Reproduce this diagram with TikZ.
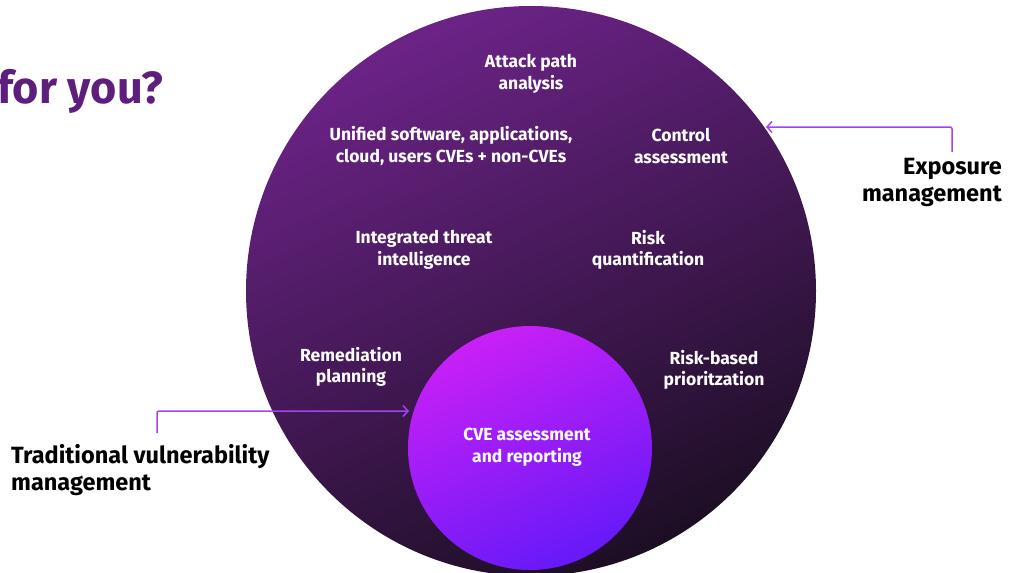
\documentclass[tikz,border=0pt]{standalone}
\usepackage{fontspec}
\setmainfont{Fira Sans}
\usetikzlibrary{arrows.meta,calc}
\definecolor{titlec}{HTML}{5E1E7E}
\definecolor{bigA}{HTML}{6C2388}
\definecolor{bigB}{HTML}{1C0E24}
\definecolor{smA}{HTML}{C920F6}
\definecolor{smB}{HTML}{6619F8}
\definecolor{arrc}{HTML}{A244F2}
\tikzset{
  inlabel/.style={text=white, font=\fontsize{17.5}{21.5}\selectfont\bfseries, align=center, inner sep=0pt},
  outlabel/.style={text=black, font=\fontsize{23.5}{27}\selectfont\bfseries, inner sep=0pt},
  arr/.style={draw=arrc, line width=1.5pt, rounded corners=2pt, -{Straight Barb[length=5pt,width=11pt]}}
}
\begin{document}
\begin{tikzpicture}[x=1pt,y=-1pt]
\useasboundingbox (0,0) rectangle (1021,573);
\clip (0,0) rectangle (1021,573);
\fill[white] (0,0) rectangle (1021,573);
\node[text=titlec, font=\fontsize{45}{45}\selectfont\bfseries, anchor=base west, inner sep=0pt] (title) at (-3,103) {for you?};
\node[circle, minimum size=570pt, inner sep=0pt, shading=axis, top color=bigA, bottom color=bigB, shading angle=25] (big) at (531,291) {};
\node[circle, minimum size=244pt, inner sep=0pt, shading=axis, top color=smA, bottom color=smB, shading angle=25] (small) at (530,448) {};
\node[inlabel] (attack) at (531,74) {Attack path\\analysis};
\node[inlabel] (unified) at (451,146) {Unified software, applications,\\cloud, users CVEs + non-CVEs};
\node[inlabel] (control) at (681,146) {Control\\assessment};
\node[inlabel] (intel) at (424,250) {Integrated threat\\intelligence};
\node[inlabel] (quant) at (648,250) {Risk\\quantification};
\node[inlabel] (remed) at (351,367) {Remediation\\planning};
\node[inlabel] (prio) at (714,370) {Risk-based\\prioritzation};
\node[inlabel] (cve) at (527,447) {CVE assessment\\and reporting};
\node[outlabel, align=right, anchor=north east] (expo) at (1002,158) {Exposure\\management};
\node[outlabel, align=left, anchor=north west] (trad) at (11,444) {Traditional vulnerability\\management};
\coordinate (e1) at (952,152);
\coordinate (e2) at (766,127);
\coordinate (t1) at (157,433);
\coordinate (t2) at (409,411);
\draw[arr] (e1) |- (e2);
\draw[arr] (t1) |- (t2);
\end{tikzpicture}
\end{document}
